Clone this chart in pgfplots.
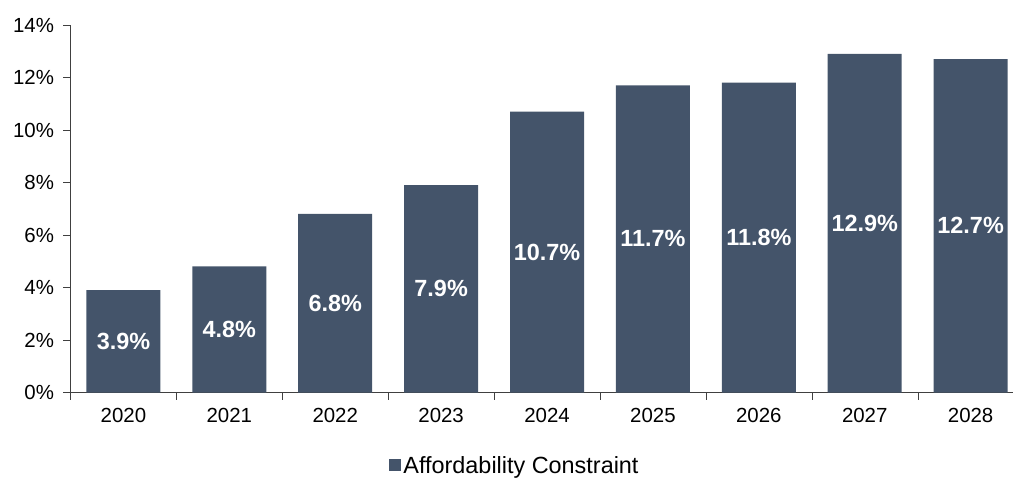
\documentclass[border=0pt]{standalone}
\usepackage{pgfplots}
\pgfplotsset{compat=1.18}
\usepackage{fontspec}
\setmainfont{Liberation Sans}
\definecolor{barblue}{HTML}{44546A}
\begin{document}
\begin{tikzpicture}
\begin{axis}[
  at={(0,0)}, anchor=south west,
  scale only axis,
  width=942.5bp, height=367.5bp,
  ybar, bar width=74bp,
  xmin=-0.5, xmax=8.4,
  ymin=0, ymax=14,
  axis lines=left,
  axis line style={black!75, -},
  xtick={0,...,8},
  xticklabels={2020,2021,2022,2023,2024,2025,2026,2027,2028},
  major x tick style={draw=none},
  minor xtick={-0.5,0.5,1.5,2.5,3.5,4.5,5.5,6.5,7.5},
  minor x tick style={black!75},
  minor tick length=7bp,
  ytick={0,2,...,14},
  yticklabel={\pgfmathprintnumber{\tick}\%},
  y tick style={black!75},
  major tick length=7bp,
  tick align=outside,
  tick label style={font=\fontsize{20.5}{22}\selectfont, black},
  xticklabel style={yshift=-5bp},
  yticklabel style={xshift=-6bp},
  /pgf/number format/assume math mode=true,
  clip=false,
  legend style={at={(0.4716,-0.198)}, anchor=center, draw=none, fill=none,
    font=\fontsize{23.5}{26}\selectfont, inner sep=0pt,
    /tikz/every even column/.append style={column sep=0pt}},
  legend image code/.code={\fill[barblue] (-2bp,-6bp) rectangle (10bp,6bp);},
  nodes near coords={\pgfmathprintnumber[fixed,precision=1,fixed zerofill]{\pgfplotspointmeta}\%},
  visualization depends on={rawy/2 \as \half},
  every node near coord/.append style={anchor=center, text=white,
    font=\bfseries\fontsize{23.5}{26}\selectfont,
    shift={(axis direction cs:0,-\half)}},
]
\addplot[fill=barblue, draw=none] coordinates {
(0,3.9) (1,4.8) (2,6.8) (3,7.9) (4,10.7) (5,11.7) (6,11.8) (7,12.9) (8,12.7)};
\addlegendentry{Affordability Constraint}
\end{axis}
\pgfresetboundingbox
\useasboundingbox (-70.5bp,-86.5bp) rectangle (942.5bp,392.5bp);
\end{tikzpicture}
\end{document}
